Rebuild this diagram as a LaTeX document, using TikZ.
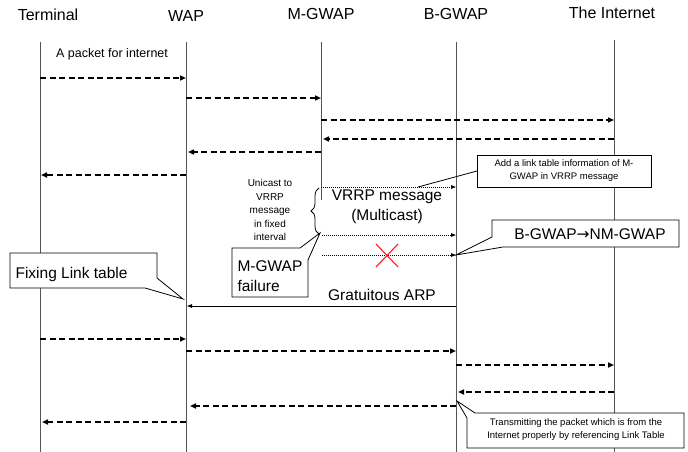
\documentclass[tikz,border=0pt]{standalone}
\usepackage{fontspec}
\setmainfont{Liberation Sans}
\newfontfamily\arrowfont{DejaVu Sans}
\usepackage{tikz}
\usetikzlibrary{positioning, arrows.meta, decorations.pathreplacing}
\usepackage{xcolor}
\definecolor{lifeGray}{HTML}{555555}
\definecolor{failRed}{HTML}{FF1A1A}

\begin{document}
\begin{tikzpicture}[x=1pt, y=-1pt,
      hdr/.style={font=\fontsize{16}{18}\selectfont},
      big/.style={font=\fontsize{15.5}{20}\selectfont, align=left},
      small/.style={font=\fontsize{9.5}{13}\selectfont, align=center},
      life/.style={draw=lifeGray, line width=0.8pt},
      pkt/.style={-{Triangle[length=6pt,width=5pt]}, dash pattern=on 6pt off 3.5pt, line width=1.6pt},
      vrrp/.style={-{Triangle[length=5pt,width=3.5pt]}, dash pattern=on 1.2pt off 0.8pt, line width=0.9pt},
      arp/.style={-{Triangle[length=5pt,width=3.5pt]}, line width=0.8pt},
      note/.style={draw, fill=white, line width=0.8pt}
    ]
      \useasboundingbox (0,0) rectangle (688,452);
      \fill[white] (0,0) rectangle (688,452);

      % entities
      \node[hdr] (term) at (48,15) {Terminal};
      \node[hdr] (wap) at (186,16) {WAP};
      \node[hdr] (mgw) at (321,14) {M-GWAP};
      \node[hdr] (bgw) at (456,14) {B-GWAP};
      \node[hdr] (inet) at (612,13) {The Internet};

      % lifelines
      \coordinate (termTop) at (40,42);  \coordinate (termBot) at (40,452);
      \coordinate (wapTop) at (186,42);  \coordinate (wapBot) at (186,452);
      \coordinate (mgwTop) at (321,42);  \coordinate (mgwBot) at (321,200);
      \coordinate (bgwTop) at (456,42);  \coordinate (bgwBot) at (456,452);
      \coordinate (inetTop) at (614,40); \coordinate (inetBot) at (614,452);
      \draw[life] (termTop) -- (termBot);
      \draw[life] (wapTop) -- (wapBot);
      \draw[life] (mgwTop) -- (mgwBot);
      \draw[life] (bgwTop) -- (bgwBot);
      \draw[life] (inetTop) -- (inetBot);

      \node[font=\fontsize{12.5}{14}\selectfont] (pktlbl) at (112,54) {A packet for internet};

      % normal path through M-GWAP
      \coordinate (a1) at (40,78);   \coordinate (b1) at (186,78);
      \coordinate (a2) at (186,98);  \coordinate (b2) at (321,98);
      \coordinate (a3) at (321,120); \coordinate (b3) at (614,120);
      \coordinate (a4) at (614,139); \coordinate (b4) at (323,139);
      \coordinate (a5) at (321,152); \coordinate (b5) at (188,152);
      \coordinate (a6) at (186,175); \coordinate (b6) at (41,175);
      \draw[pkt] (a1) -- (b1);
      \draw[pkt] (a2) -- (b2);
      \draw[pkt] (a3) -- (b3);
      \draw[pkt] (a4) -- (b4);
      \draw[pkt] (a5) -- (b5);
      \draw[pkt] (a6) -- (b6);

      % VRRP
      \coordinate (v1) at (321,187); \coordinate (w1) at (456,187);
      \coordinate (v2) at (322,235); \coordinate (w2) at (456,235);
      \coordinate (v3) at (322,255); \coordinate (w3) at (456,255);
      \draw[vrrp] (v1) -- (w1);
      \draw[vrrp] (v2) -- (w2);
      \draw[vrrp] (v3) -- (w3);
      \draw[line width=0.8pt, decorate, decoration={brace, amplitude=8pt}] (319,234) -- (319,188);
      \node[small, font=\fontsize{10}{13.5}\selectfont] (unicast) at (270,210) {Unicast to\\VRRP\\message\\in fixed\\interval};
      \node[big, align=center] (vrrpmsg) at (387,207) {VRRP message\\(Multicast)};
      \draw[failRed, line width=1.1pt] (376,244) -- (398,267) (376,267) -- (398,244);

      % notes
      \draw[note] (477,155) rectangle (651,187);
      \draw[line width=0.8pt] (418,187) -- (477,171);
      \node[small] (addinfo) at (564,171) {Add a link table information of M-\\GWAP in VRRP message};

      \draw[note] (492,220) -- (679,220) -- (679,247) -- (503,247) -- (w3) -- (492,237) -- cycle;
      \node[big] (nmgw) at (590,234) {B-GWAP{\arrowfont →}NM-GWAP};

      \draw[note] (232,248) -- (300,248) -- (320,233) -- (308,260) -- (308,297) -- (232,297) -- cycle;
      \node[big, anchor=west] (fail) at (234,276) {M-GWAP\\failure};

      \draw[note] (10,253) -- (157,253) -- (157,278) -- (183,299) -- (145,288) -- (10,288) -- cycle;
      \node[big, anchor=west] (fixing) at (12,274) {Fixing Link table};

      % gratuitous ARP
      \coordinate (g1) at (456,306); \coordinate (g2) at (187,306);
      \draw[arp] (g1) -- (g2);
      \node[big] (garp) at (382,295) {Gratuitous ARP};

      % path through B-GWAP
      \coordinate (c1) at (40,339);  \coordinate (d1) at (186,339);
      \coordinate (c2) at (186,351); \coordinate (d2) at (456,351);
      \coordinate (c3) at (456,365); \coordinate (d3) at (614,365);
      \coordinate (c4) at (614,392); \coordinate (d4) at (458,392);
      \coordinate (c5) at (456,406); \coordinate (d5) at (190,406);
      \coordinate (c6) at (186,422); \coordinate (d6) at (42,422);
      \draw[pkt] (c1) -- (d1);
      \draw[pkt] (c2) -- (d2);
      \draw[pkt] (c3) -- (d3);
      \draw[pkt] (c4) -- (d4);
      \draw[pkt] (c5) -- (d5);
      \draw[pkt] (c6) -- (d6);

      \draw[note] (467,418) -- (457,401) -- (475,413) -- (684,413) -- (684,448) -- (467,448) -- cycle;
      \node[small] (transmit) at (576,430) {Transmitting the packet which is from the\\Internet properly by referencing Link Table};
    \end{tikzpicture}
\end{document}
